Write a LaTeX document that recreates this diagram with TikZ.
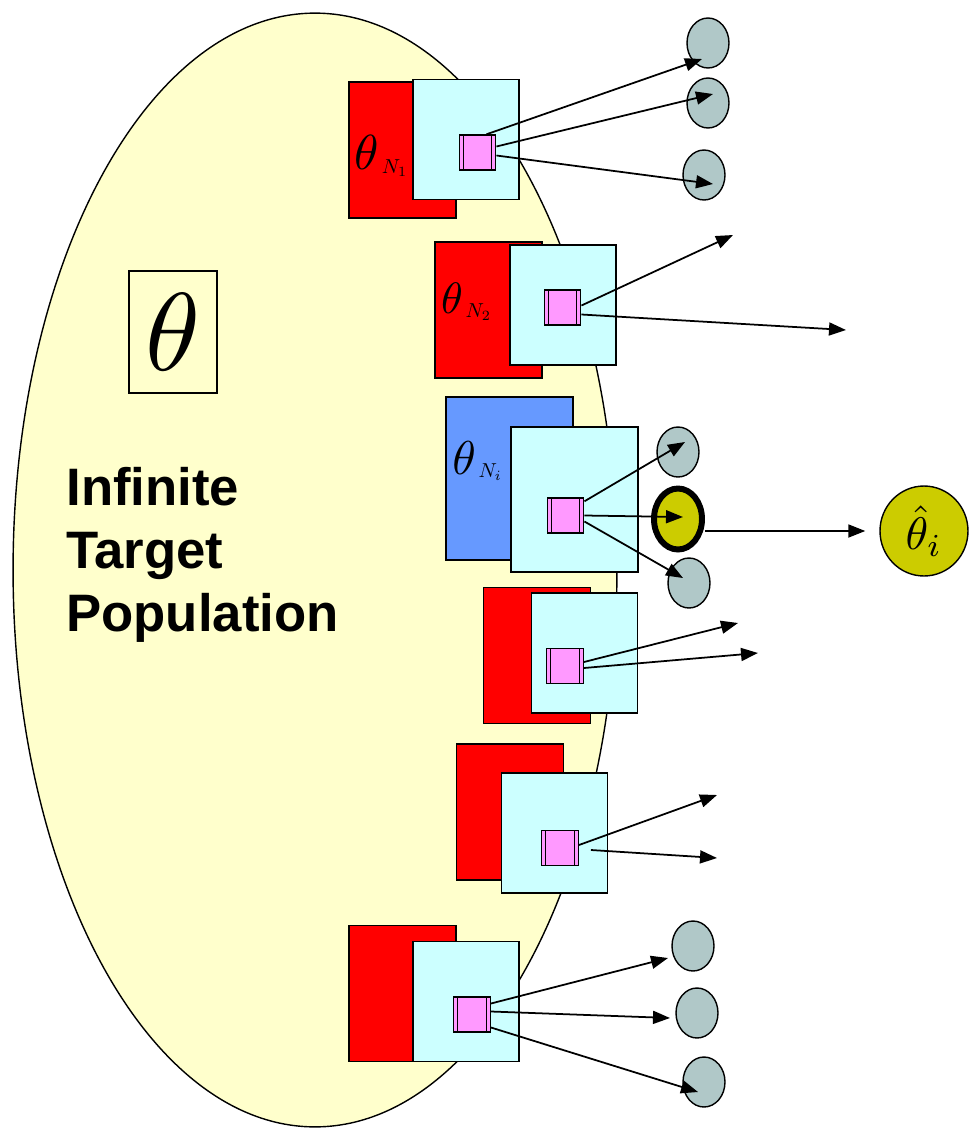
\documentclass[tikz,border=0pt]{standalone}
\usepackage{fontspec}
\usepackage{tikz}
\usetikzlibrary{shapes.geometric,arrows.meta,calc}
\newfontfamily\popfont{Liberation Sans}
\definecolor{popyellow}{HTML}{FFFFCC}
\definecolor{sampred}{HTML}{FF0000}
\definecolor{sampblue}{HTML}{6699FF}
\definecolor{framecyan}{HTML}{CCFFFF}
\definecolor{unitpink}{HTML}{FF99FF}
\definecolor{obsgray}{HTML}{B0C8C8}
\definecolor{estyellow}{HTML}{CCCC00}
\newcommand{\thetaN}[2]{\scalebox{#1}{$\theta$}\hspace{1.5pt}\raisebox{-2pt}{\scalebox{1.15}{$N_{#2}$}}}

\begin{document}
\begin{tikzpicture}[
    x=0.02cm, y=-0.02cm,
    backbox/.style={rectangle, draw=black, line width=0.8pt, fill=sampred, minimum width=2.14cm, minimum height=2.72cm, inner sep=0pt},
    frontbox/.style={rectangle, draw=black, line width=0.8pt, fill=framecyan, minimum width=2.12cm, minimum height=2.4cm, inner sep=0pt},
    unitbox/.style={rectangle, draw=black, line width=0.8pt, fill=unitpink, minimum width=0.73cm, minimum height=0.7cm, inner sep=0pt,
        path picture={\draw[line width=0.8pt] ([xshift=0.08cm]path picture bounding box.south west) -- ([xshift=0.08cm]path picture bounding box.north west);
                      \draw[line width=0.8pt] ([xshift=-0.08cm]path picture bounding box.south east) -- ([xshift=-0.08cm]path picture bounding box.north east);}},
    obs/.style={ellipse, draw=black, line width=0.8pt, fill=obsgray, minimum width=0.84cm, minimum height=1cm, inner sep=0pt},
    arrow/.style={draw, -{Triangle[length=0.34cm,width=0.26cm]}, line width=1pt},
    lbl/.style={inner sep=0pt}
]
\useasboundingbox (0,0) rectangle (969,1130);
\clip (0,0) rectangle (969,1130);

\draw[fill=popyellow, line width=0.8pt] (315,570) ellipse [x radius=6.04cm, y radius=11.14cm];
\node[draw, line width=0.8pt, fill=popyellow, minimum width=1.76cm, minimum height=2.44cm, inner sep=0pt] (thetabox) at (173,332) {\scalebox{6.3}{$\theta$}};
\node[anchor=north west, inner sep=0pt, align=left, font=\popfont\bfseries\fontsize{30}{35.7}\selectfont] (poplabel) at (66,467) {Infinite\\Target\\Population};

\node[backbox] (back1) at (402.5,150) {};
\node[lbl] (lab1) at (381,156) {\thetaN{2.8}{1}};
\node[frontbox] (front1) at (466,139.5) {};
\node[unitbox] (unit1) at (477.5,152.5) {};
\node[obs] (s11) at (708,43) {};
\node[obs] (s12) at (708,103) {};
\node[obs] (s13) at (704,175) {};
\draw [arrow] ($(unit1.north east)+(-10,0)$) -- ($(s11.center)+(-6,16)$);
\draw [arrow] ($(unit1.east)+(0,-6)$) -- ($(s12.center)+(5,-9)$);
\draw [arrow] ($(unit1.east)+(0,3)$) -- ($(s13.center)+(9,9)$);

\node[backbox] (back2) at (488.5,310) {};
\node[lbl] (lab2) at (466,302) {\thetaN{2.5}{2}};
\node[frontbox] (front2) at (563,305) {};
\node[unitbox] (unit2) at (562.5,307.5) {};
\coordinate (t21) at (733,235);
\coordinate (t22) at (846,330);
\draw [arrow] ($(unit2.east)+(0,-2)$) -- (t21);
\draw [arrow] ($(unit2.east)+(0,7)$) -- (t22);

\node[backbox, fill=sampblue, minimum width=2.54cm, minimum height=3.26cm] (back3) at (509.5,478.5) {};
\node[lbl] (lab3) at (477,461) {\thetaN{2.7}{i}};
\node[frontbox, minimum width=2.54cm, minimum height=2.9cm] (front3) at (574.5,499.5) {};
\node[unitbox] (unit3) at (565.5,515.5) {};
\node[obs] (s31) at (678,452) {};
\node[obs, fill=estyellow, line width=3.4pt, minimum width=0.96cm, minimum height=1.22cm] (est) at (678,519) {};
\node[obs] (s32) at (689,583) {};
\node[ellipse, draw=black, line width=0.8pt, fill=estyellow, minimum width=1.76cm, minimum height=1.8cm, inner sep=0pt] (thetahat) at (924,531) {\scalebox{2.6}{$\hat{\theta}_i$}};
\draw [arrow] ($(unit3.north east)+(0,4)$) -- ($(s31.center)+(7,-10)$);
\draw [arrow] (unit3.east) -- ($(est.center)+(5,-2)$);
\draw [arrow] ($(unit3.east)+(0,6)$) -- ($(s32.center)+(-6,-5)$);
\draw [arrow, shorten >=0.28cm] (est.east |- thetahat.west) -- (thetahat.west);

\node[backbox] (back4) at (537,655.5) {};
\node[frontbox] (front4) at (584.5,653) {};
\node[unitbox] (unit4) at (565,666) {};
\coordinate (t41) at (738,623);
\coordinate (t42) at (758,653);
\draw [arrow] ($(unit4.east)+(0,-4)$) -- (t41);
\draw [arrow] ($(unit4.east)+(0,2)$) -- (t42);

\node[backbox] (back5) at (510,812) {};
\node[frontbox] (front5) at (554.5,833) {};
\node[unitbox] (unit5) at (560,848) {};
\coordinate (t51) at (717,795);
\coordinate (t52) at (717,858);
\draw [arrow] ($(unit5.east)+(0,-3)$) -- (t51);
\draw [arrow] ($(unit5.east)+(12,2)$) -- (t52);

\node[backbox] (back6) at (402.5,993.5) {};
\node[frontbox] (front6) at (466,1001.5) {};
\node[unitbox] (unit6) at (472,1014.5) {};
\node[obs] (s61) at (693,946) {};
\node[obs] (s62) at (697,1013) {};
\node[obs] (s63) at (704,1082) {};
\draw [arrow] ($(unit6.east)+(0,-11)$) -- ($(s61.center)+(-25,12)$);
\draw [arrow] ($(unit6.east)+(0,-3)$) -- ($(s62.center)+(-27,5)$);
\draw [arrow] ($(unit6.east)+(0,13)$) -- ($(s63.center)+(-6,10)$);

\end{tikzpicture}
\end{document}
